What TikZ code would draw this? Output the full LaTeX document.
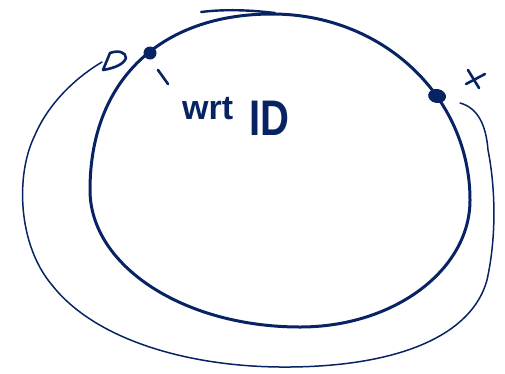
\documentclass[tikz,border=0pt]{standalone}
\usepackage{fontspec}
\setsansfont{Liberation Sans}
\usetikzlibrary{calc}
\definecolor{ink}{RGB}{8,35,100}
\begin{document}
\begin{tikzpicture}[x=1pt,y=-1pt,
  thickink/.style={draw=ink,line width=3pt,line cap=round,line join=round},
  thinink/.style={draw=ink,line width=1.5pt,line cap=round,line join=round},
  penink/.style={draw=ink,line width=2.6pt,line cap=round,line join=round}]
\useasboundingbox (0,0) rectangle (505,373);
% main circle
\coordinate (top) at (272,14);
\coordinate (rt) at (470,200);
\coordinate (bot) at (300,327);
\coordinate (lf) at (90,190);
\path[thickink] (top) .. controls (383,14) and (470,97) .. (rt)
  .. controls (470,270) and (394,327) .. (bot)
  .. controls (184,327) and (90,266) .. (lf)
  .. controls (90,81) and (160,14) .. (top);
% extra top stroke
\path[thickink,line width=2.4pt] (201,12) .. controls (225,9) and (250,10) .. (275,13);
% dots
\coordinate (p) at (150,53);
\fill[ink] (p) circle (6.5pt);
\coordinate (x) at (437,96);
\fill[ink,rotate around={-10:(x)}] (x) ellipse (9pt and 7pt);
% tick under dot
\coordinate (t1) at (158,70);
\coordinate (t2) at (168,84);
\path[penink] (t1) -- (t2);
% outer thin loop
\coordinate (s) at (460,103);
\coordinate (e) at (102,62);
\path[thinink] (s) .. controls (478,108) and (486,125) .. (488,150)
  .. controls (494,180) and (498,230) .. (487,280)
  .. controls (472,335) and (400,366) .. (290,367)
  .. controls (190,368) and (95,340) .. (52,285)
  .. controls (18,245) and (15,175) .. (35,135)
  .. controls (50,100) and (80,75) .. (e);
% D-shaped tip
\path[penink] (103,70) -- (110,53) .. controls (118,50) and (126,52) .. (126,58)
  .. controls (124,64) and (115,68) .. (103,70);
% x mark
\path[penink] (468,70) -- (479,88);
\path[penink] (466,84) -- (485,74);
% text
\node[text=ink,font=\sffamily\bfseries,inner sep=0pt,anchor=base west] (lbl) at (182,119)
  {{\fontsize{34}{34}\selectfont wrt}\hspace{16pt}\raisebox{-16pt}{\scalebox{0.8}[1]{\fontsize{50}{50}\selectfont ID}}};
\end{tikzpicture}
\end{document}
